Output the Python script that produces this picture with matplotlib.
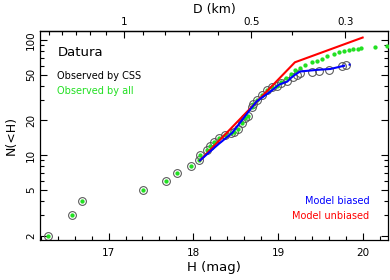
import numpy as np
import matplotlib
matplotlib.use("Agg")
import matplotlib.pyplot as plt
from matplotlib.ticker import FixedLocator, NullFormatter

# Observed by all (green): absolute magnitude H and cumulative count N(<H)
h_all = [16.29, 16.57, 16.69, 17.41, 17.68, 17.81, 17.97, 18.07, 18.08, 18.16,
         18.20, 18.24, 18.30, 18.38, 18.44, 18.48, 18.53, 18.57, 18.61, 18.65,
         18.69, 18.71, 18.75, 18.81, 18.87, 18.93, 18.99, 19.03, 19.09, 19.15,
         19.20, 19.26, 19.32, 19.40, 19.46, 19.52, 19.58, 19.66, 19.72, 19.78,
         19.84, 19.89, 19.94, 19.98, 20.14, 20.29]
n_all = [2, 3, 4, 5, 6, 7, 8, 9, 10, 11,
         12, 13, 14, 15, 15.5, 16, 17, 19, 21, 22,
         26, 28, 30, 33, 37, 39, 40, 43, 47, 51,
         55, 57, 61, 64, 66, 68, 72, 76, 78, 80,
         82, 83, 84, 85, 87, 89]

# Observed by CSS (open circles)
h_css = [16.29, 16.57, 16.69, 17.41, 17.68, 17.81, 17.97, 18.07, 18.08, 18.16,
         18.20, 18.24, 18.30, 18.38, 18.44, 18.48, 18.53, 18.57, 18.61, 18.65,
         18.69, 18.71, 18.75, 18.81, 18.87, 18.93, 18.99, 19.03, 19.11, 19.18,
         19.22, 19.26, 19.40, 19.49, 19.60, 19.76, 19.80]
n_css = [2, 3, 4, 5, 6, 7, 8, 9, 10, 11,
         12, 13, 14, 15, 15.5, 16, 17, 19, 21, 22,
         26, 28, 30, 33, 37, 39, 40, 42, 44, 48,
         50, 52, 53, 54, 55, 59, 61]

# Model curves
h_biased = [18.08, 18.30, 18.46, 18.67, 18.75, 18.91, 19.01, 19.07, 19.11,
            19.15, 19.20, 19.26, 19.46, 19.62, 19.77]
n_biased = [9, 12.5, 15.6, 24.8, 29.3, 35.6, 40.8, 42.5, 43.5,
            46.6, 49.8, 53.2, 55, 56, 59.5]
h_biased_ext = [19.77, 19.87]
n_biased_ext = [59.5, 61.6]

h_unbiased = [18.08, 19.20, 20.00]
n_unbiased = [9, 64, 105]

# H at which D = 1 km
H_1KM = 17.18

GREEN = '#22e022'


def h_to_d(h):
    return 10 ** ((H_1KM - np.asarray(h, dtype=float)) / 5.0)


def d_to_h(d):
    d = np.clip(np.asarray(d, dtype=float), 1e-6, None)
    return H_1KM - 5.0 * np.log10(d)


def main():
    plt.rcParams['font.family'] = 'DejaVu Sans'
    fig = plt.figure(figsize=(3.9, 2.8), dpi=100)
    ax = fig.add_axes([0.1026, 0.1429, 0.8924, 0.7446])

    ax.plot(h_css, n_css, 'o', ms=5.6, mfc='none', mec='#555555', mew=0.75, zorder=2)
    ax.plot(h_all, n_all, 'o', ms=3.1, mfc=GREEN, mec=GREEN, mew=0, zorder=3)
    ax.plot(h_unbiased, n_unbiased, '-', color='#ff0000', lw=1.5, zorder=4)
    ax.plot(h_biased, n_biased, '-', color='#0000ff', lw=1.5, zorder=5)
    ax.plot(h_biased_ext, n_biased_ext, ':', color='#0000ff', lw=1.5, zorder=5)

    ax.set_yscale('log')
    ax.set_xlim(16.19, 20.3)
    ax.set_ylim(1.83, 118.5)

    ax.xaxis.set_major_locator(FixedLocator([17, 18, 19, 20]))
    ax.xaxis.set_minor_locator(FixedLocator(np.arange(16.2, 20.31, 0.2)))
    ax.set_xticklabels(['17', '18', '19', '20'])
    ax.yaxis.set_major_locator(FixedLocator([2, 5, 10, 20, 50, 100]))
    ax.yaxis.set_minor_locator(FixedLocator([3, 4, 6, 7, 8, 9, 30, 40, 60, 70, 80, 90]))
    ax.yaxis.set_minor_formatter(NullFormatter())
    ax.set_yticklabels(['2', '5', '10', '20', '50', '100'])

    ax.tick_params(which='both', direction='in', right=True, top=False,
                   labelsize=7.5, width=0.8)
    ax.tick_params(which='major', length=5)
    ax.tick_params(which='minor', length=3)
    ax.tick_params(axis='x', pad=6)
    ax.tick_params(axis='y', pad=3)
    for lab in ax.get_yticklabels():
        lab.set_rotation(90)
        lab.set_va('center')

    for sp in ax.spines.values():
        sp.set_linewidth(0.9)

    ax.set_xlabel('H (mag)', fontsize=9.5, labelpad=2)
    ax.set_ylabel('N(<H)', fontsize=9, labelpad=6)

    # Top axis: diameter in km
    sec = ax.secondary_xaxis('top', functions=(h_to_d, d_to_h))
    sec.xaxis.set_major_locator(FixedLocator([1, 0.5, 0.3]))
    sec.xaxis.set_minor_locator(FixedLocator([1.5, 1.4, 1.3, 1.2, 1.1, 0.9, 0.8,
                                              0.7, 0.6, 0.4]))
    sec.xaxis.set_minor_formatter(NullFormatter())
    sec.set_xticklabels(['1', '0.5', '0.3'])
    sec.tick_params(which='both', direction='in', labelsize=7.5, width=0.8, pad=3)
    sec.tick_params(which='major', length=5)
    sec.tick_params(which='minor', length=3)
    sec.spines['top'].set_linewidth(0.9)
    sec.set_xlabel('D (km)', fontsize=9, labelpad=3)

    ax.text(0.05, 0.90, 'Datura', transform=ax.transAxes, fontsize=9.5,
            ha='left', va='center')
    ax.text(0.05, 0.785, 'Observed by CSS', transform=ax.transAxes, fontsize=7,
            ha='left', va='center', color='black')
    ax.text(0.05, 0.715, 'Observed by all', transform=ax.transAxes, fontsize=7,
            ha='left', va='center', color=GREEN)
    ax.text(0.947, 0.185, 'Model biased', transform=ax.transAxes, fontsize=7,
            ha='right', va='center', color='#0000ff')
    ax.text(0.947, 0.113, 'Model unbiased', transform=ax.transAxes, fontsize=7,
            ha='right', va='center', color='#ff0000')

    fig.savefig('out.png', dpi=100)
    plt.close(fig)


if __name__ == '__main__':
    main()
